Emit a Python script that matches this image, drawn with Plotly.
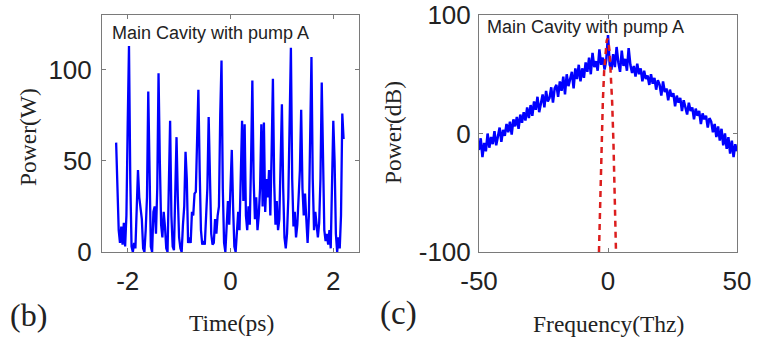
import numpy as np
import plotly.graph_objects as go

# ---- (b) temporal intensity in the main cavity ----
power_w = [
    60, 35, 12, 5, 14, 4, 16, 3, 20, 70,
    113, 40, 3, 0, 5, 2, 20, 45, 30, 22,
    18, 2, 0, 12, 30, 88, 40, 3, 0, 22,
    25, 10, 35, 98, 50, 15, 8, 22, 14, 2,
    0, 30, 72, 20, 3, 1, 30, 63, 30, 8,
    2, 0, 15, 25, 55, 40, 5, 8, 5, 22,
    20, 32, 33, 60, 89, 45, 12, 4, 6, 4,
    18, 35, 74, 38, 10, 4, 5, 18, 10, 20,
    25, 75, 105, 35, 5, 0, 12, 28, 15, 35,
    56, 25, 3, 0, 10, 22, 12, 40, 72, 28,
    70, 20, 12, 25, 15, 50, 94, 40, 18, 30,
    12, 20, 35, 70, 25, 71, 22, 40, 30, 45,
    20, 55, 95, 38, 15, 28, 12, 18, 45, 81,
    35, 8, 2, 10, 30, 75, 112, 40, 14, 22,
    8, 15, 28, 45, 78, 35, 20, 32, 18, 5,
    20, 70, 107, 40, 12, 22, 15, 8, 16, 40,
    93, 45, 12, 6, 10, 4, 12, 2, 30, 72,
    50, 10, 0, 8, 2, 20, 76, 62,
]
time_start, time_end = -2.225, 2.2

# ---- (c) spectrum in dB ----
spec_db = [
    -14, -4, -20, -8, -15, 0, -12, -3, -9, 2, -10, -1, 5, -7, 3,
    -2, 8, 1, 10, -1, 12, 6, 14, 4, 16, 9, 18, 11, 22, 13,
    24, 15, 27, 20, 31, 18, 26, 33, 22, 36, 27, 30, 39, 26, 38,
    41, 31, 44, 36, 48, 33, 50, 40, 45, 52, 38, 55, 46, 58, 44,
    55, 47, 60, 52, 64, 50, 68, 56, 61, 53, 71, 58, 64, 54, 62,
    83, 58, 54, 67, 56, 73, 60, 52, 70, 57, 63, 53, 72, 58, 51,
    57, 48, 59, 50, 55, 44, 53, 46, 49, 41, 50, 42, 47, 37, 45,
    41, 32, 44, 35, 38, 28, 37, 31, 34, 23, 32, 26, 30, 19, 28,
    22, 16, 26, 19, 22, 12, 21, 15, 19, 8, 17, 12, 15, 5, 13,
    10, 1, 8, -3, 6, -6, 4, -10, 0, -13, -3, -17, -6, -20, -9,
    -15,
]
freq_start, freq_end = -50, 50

# pump line (red dashed)
pump_freq = [-3.5, -3.0, -2.5, -2.0, -1.5, -1.0, -0.5, -0.2, 0.1, 0.6, 1.1, 1.6, 2.1, 2.6, 3.1]
pump_db = [-100, -48.6, -6.8, 26.9, 52.3, 69.5, 78.5, 80, 78.5, 69.5, 52.3, 26.9, -6.8, -48.6, -100]

time_ticks = [-2, 0, 2]
time_labels = ["-2", "0", "2"]
power_ticks = [0, 50, 100]
power_labels = ["0", "50", "100"]
freq_ticks = [-50, 0, 50]
freq_labels = ["-50", "0", "50"]
db_ticks = [-100, 0, 100]
db_labels = ["-100", "0", "100"]

t = np.linspace(time_start, time_end, len(power_w))
f = np.linspace(freq_start, freq_end, len(spec_db))

W, H = 759, 338
BLUE = "#0000ff"
RED = "#dc1e1e"
FRAME = "#7a7a7a"
TXT = "#222222"
SANS = "Liberation Sans, Arial, sans-serif"
SERIF = "Liberation Serif, Times New Roman, serif"

fig = go.Figure()
fig.add_trace(go.Scatter(x=t, y=power_w, mode="lines",
                         line=dict(color=BLUE, width=2.3),
                         xaxis="x", yaxis="y", showlegend=False))
fig.add_trace(go.Scatter(x=f, y=spec_db, mode="lines",
                         line=dict(color=BLUE, width=2.5),
                         xaxis="x2", yaxis="y2", showlegend=False))
fig.add_trace(go.Scatter(x=pump_freq, y=pump_db, mode="lines",
                         line=dict(color=RED, width=2.5, dash="6px,5px"),
                         xaxis="x2", yaxis="y2", showlegend=False))


def px_x(a, b):
    return [a / W, b / W]


def px_y(top, bottom):
    return [1 - bottom / H, 1 - top / H]


axis_common = dict(showline=True, linecolor=FRAME, linewidth=1, mirror="ticks",
                   ticks="inside", ticklen=4, tickcolor=FRAME,
                   showgrid=False, zeroline=False, automargin=False,
                   tickfont=dict(family=SANS, size=26, color=TXT))

fig.update_layout(
    template="none",
    width=W, height=H,
    margin=dict(l=0, r=0, t=0, b=0, pad=0),
    paper_bgcolor="white", plot_bgcolor="white",
    xaxis=dict(domain=px_x(102, 359), range=[-2.5, 2.5], tickvals=time_ticks,
               ticktext=time_labels, anchor="y", ticklabelstandoff=6, **axis_common),
    yaxis=dict(domain=px_y(15, 252), range=[0, 130], tickvals=power_ticks,
               ticktext=power_labels, anchor="x", ticklabelstandoff=4, **axis_common),
    xaxis2=dict(domain=px_x(479, 737), range=[-50, 50], tickvals=freq_ticks,
                ticktext=freq_labels, anchor="y2", ticklabelstandoff=6, **axis_common),
    yaxis2=dict(domain=px_y(15, 252), range=[-100, 100], tickvals=db_ticks,
                ticktext=db_labels, anchor="x2", ticklabelstandoff=2, **axis_common),
)


def note(text, x, y, size, family, angle=0, xanchor="center"):
    fig.add_annotation(text=text, x=x / W, y=1 - y / H, xref="paper", yref="paper",
                       showarrow=False, xanchor=xanchor, yanchor="middle",
                       textangle=angle, font=dict(family=family, size=size, color=TXT))


# in-panel labels
note("Main Cavity with pump A", 110, 33, 18, SANS, xanchor="left")
note("Main Cavity with pump A", 485, 27, 18, SANS, xanchor="left")

# axis titles
note("Power(W)", 28, 137, 23.5, SERIF, angle=-90)
note("Power(dB)", 393, 133, 23.5, SERIF, angle=-90)
note("Time(ps)", 232, 323, 23.5, SERIF)
note("Frequency(Thz)", 608, 324, 23.5, SERIF)

# panel tags
note("(b)", 29, 315, 32, SERIF)
note("(c)", 398, 313, 33, SERIF)

fig.write_html("out.html")
